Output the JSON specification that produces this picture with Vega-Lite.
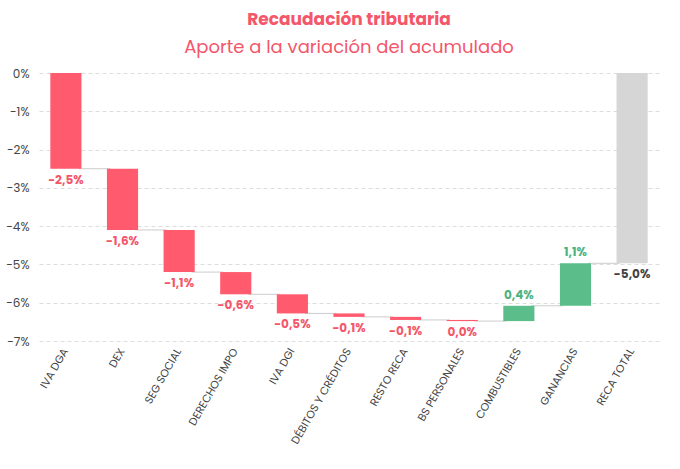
{
  "$schema": "https://vega.github.io/schema/vega-lite/v6.json",
  "width": 620,
  "height": 268,
  "background": "white",
  "padding": {"top": 11, "left": 5, "right": 5, "bottom": 5},
  "title": {
    "text": "Recaudación tributaria",
    "subtitle": "Aporte a la variación del acumulado",
    "anchor": "middle",
    "font": "Poppins, Inter, sans-serif",
    "fontSize": 17,
    "fontWeight": "bold",
    "color": "#F4566A",
    "subtitleFont": "Poppins, Inter, sans-serif",
    "subtitleFontSize": 18,
    "subtitleColor": "#F4566A",
    "subtitlePadding": 10,
    "offset": 9
  },
  "data": {
    "values": [
      {"name": "IVA DGA", "next": "DEX", "start": 0, "end": -2.5, "label": "-2,5%", "kind": "neg"},
      {"name": "DEX", "next": "SEG SOCIAL", "start": -2.5, "end": -4.1, "label": "-1,6%", "kind": "neg"},
      {"name": "SEG SOCIAL", "next": "DERECHOS IMPO", "start": -4.1, "end": -5.2, "label": "-1,1%", "kind": "neg"},
      {"name": "DERECHOS IMPO", "next": "IVA DGI", "start": -5.2, "end": -5.78, "label": "-0,6%", "kind": "neg"},
      {"name": "IVA DGI", "next": "DÉBITOS Y CRÉDITOS", "start": -5.78, "end": -6.28, "label": "-0,5%", "kind": "neg"},
      {"name": "DÉBITOS Y CRÉDITOS", "next": "RESTO RECA", "start": -6.28, "end": -6.37, "label": "-0,1%", "kind": "neg"},
      {"name": "RESTO RECA", "next": "BS PERSONALES", "start": -6.37, "end": -6.45, "label": "-0,1%", "kind": "neg"},
      {"name": "BS PERSONALES", "next": "COMBUSTIBLES", "start": -6.45, "end": -6.48, "label": "0,0%", "kind": "neg"},
      {"name": "COMBUSTIBLES", "next": "GANANCIAS", "start": -6.48, "end": -6.08, "label": "0,4%", "kind": "pos"},
      {"name": "GANANCIAS", "next": "RECA TOTAL", "start": -6.08, "end": -4.97, "label": "1,1%", "kind": "pos"},
      {"name": "RECA TOTAL", "start": 0, "end": -4.97, "label": "-5,0%", "kind": "total"}
    ]
  },
  "encoding": {
    "x": {
      "field": "name", "type": "nominal", "sort": null, "title": null,
      "scale": {"paddingInner": 0.45, "paddingOuter": 0.2},
      "axis": {"labelAngle": -60, "labelFont": "Poppins, Inter, sans-serif", "labelFontSize": 11, "labelColor": "#444", "domain": false, "ticks": false, "labelPadding": 8}
    }
  },
  "layer": [
    {
      "mark": {"type": "rule", "color": "#cccccc", "strokeWidth": 1},
      "transform": [{"filter": "datum.next"}],
      "encoding": {
        "x": {"field": "name", "type": "nominal", "sort": null, "bandPosition": 0.9},
        "x2": {"field": "next", "bandPosition": 0.1},
        "y": {"field": "end", "type": "quantitative", "title": null, "scale": {"domain": [-7, 0], "nice": false}}
      }
    },
    {
      "mark": {"type": "bar"},
      "encoding": {
        "y": {"field": "start", "type": "quantitative", "title": null, "scale": {"domain": [-7, 0], "nice": false}},
        "y2": {"field": "end"},
        "color": {
          "field": "kind", "type": "nominal", "legend": null,
          "scale": {"domain": ["neg", "pos", "total"], "range": ["#FF5A6E", "#5BBE8A", "#D6D6D6"]}
        }
      }
    },
    {
      "mark": {"type": "text", "dy": 11, "fontWeight": "bold", "fontSize": 12, "font": "Poppins, Inter, sans-serif"},
      "transform": [{"filter": "datum.kind != 'pos'"}],
      "encoding": {
        "y": {"field": "end", "type": "quantitative", "title": null},
        "text": {"field": "label"},
        "color": {"condition": {"test": "datum.kind == 'total'", "value": "#444444"}, "value": "#F4566A"}
      }
    },
    {
      "mark": {"type": "text", "dy": -11, "fontWeight": "bold", "fontSize": 12, "font": "Poppins, Inter, sans-serif"},
      "transform": [{"filter": "datum.kind == 'pos'"}],
      "encoding": {
        "y": {"field": "end", "type": "quantitative", "title": null},
        "text": {"field": "label"},
        "color": {"value": "#4DB37E"}
      }
    }
  ],
  "config": {
    "view": {"stroke": null},
    "axisY": {"tickCount": 8, "labelOverlap": false, "labelExpr": "datum.value + '%'", "gridDash": [4, 3], "gridColor": "#dddddd", "domain": false, "ticks": false, "labelFont": "Poppins, Inter, sans-serif", "labelFontSize": 12, "labelColor": "#444", "labelPadding": 10}
  }
}
